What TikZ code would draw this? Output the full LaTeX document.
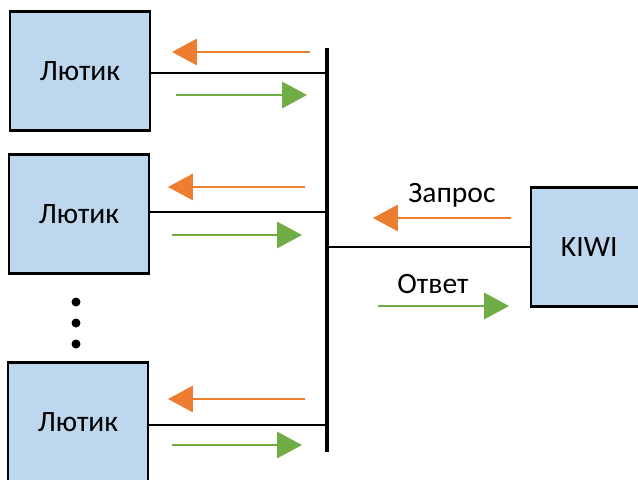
\documentclass[tikz,border=0pt]{standalone}
\usepackage{fontspec}
\setmainfont{Carlito}
\usetikzlibrary{arrows.meta}
\definecolor{boxblue}{HTML}{BDD7EE}
\definecolor{reqorange}{HTML}{ED7D31}
\definecolor{respgreen}{HTML}{70AD47}
\begin{document}
\begin{tikzpicture}[
  x=0.025cm, y=-0.025cm,
  box/.style = {draw, line width=1.6pt, fill=boxblue, minimum width=3.5cm,
                minimum height=2.97cm, font=\fontsize{21}{24}\selectfont},
  link/.style = {line width=0.9pt},
  req/.style = {reqorange, line width=1pt, -{Triangle[length=0.62cm,width=0.66cm]}},
  resp/.style = {respgreen, line width=1pt, -{Triangle[length=0.62cm,width=0.66cm]}},
  lbl/.style = {font=\fontsize{21}{24}\selectfont}
]
\useasboundingbox (0,0) rectangle (638,480);

% Clients on the left, server on the right
\node [box] (c1) at (80,71) {Лютик};
\node [box] (c2) at (79,214) {Лютик};
\node [box] (c3) at (78,422) {Лютик};
\node [box, minimum width=2.7cm, text width=2.1cm, align=left] (kiwi) at (585,247) {\hspace*{0.45cm}KIWI};

% Bus
\coordinate (bustop) at (327,48);
\coordinate (busbot) at (327,452);
\draw [line width=2.4pt] (bustop) -- (busbot);

% Taps onto the bus
\coordinate (t1) at (327,73);
\coordinate (t2) at (327,212);
\coordinate (t3) at (327,425);
\coordinate (tk) at (327,247);
\draw [link] (c1.east |- t1) -- (t1);
\draw [link] (c2.east |- t2) -- (t2);
\draw [link] (c3.east |- t3) -- (t3);
\draw [link] (kiwi.west |- tk) -- (tk);

% Dots between clients
\foreach \y in {302,323,344}
  \fill (76,\y) circle (4.5);

% Arrows at the clients
\coordinate (r1a) at (310,52);  \coordinate (r1b) at (172,52);
\coordinate (g1a) at (176,95);  \coordinate (g1b) at (307,95);
\coordinate (r2a) at (305,187); \coordinate (r2b) at (168,187);
\coordinate (g2a) at (172,235); \coordinate (g2b) at (302,235);
\coordinate (r3a) at (305,399); \coordinate (r3b) at (168,399);
\coordinate (g3a) at (172,445); \coordinate (g3b) at (302,445);
\draw [req] (r1a) -- (r1b);
\draw [resp] (g1a) -- (g1b);
\draw [req] (r2a) -- (r2b);
\draw [resp] (g2a) -- (g2b);
\draw [req] (r3a) -- (r3b);
\draw [resp] (g3a) -- (g3b);

% Arrows at the server
\coordinate (rka) at (511,218); \coordinate (rkb) at (373,218);
\coordinate (gka) at (378,306); \coordinate (gkb) at (509,306);
\draw [req] (rka) -- (rkb);
\draw [resp] (gka) -- (gkb);
\node [lbl] (zapros) at (452,195) {Запрос};
\node [lbl] (otvet) at (433,284) {Ответ};

\end{tikzpicture}
\end{document}
